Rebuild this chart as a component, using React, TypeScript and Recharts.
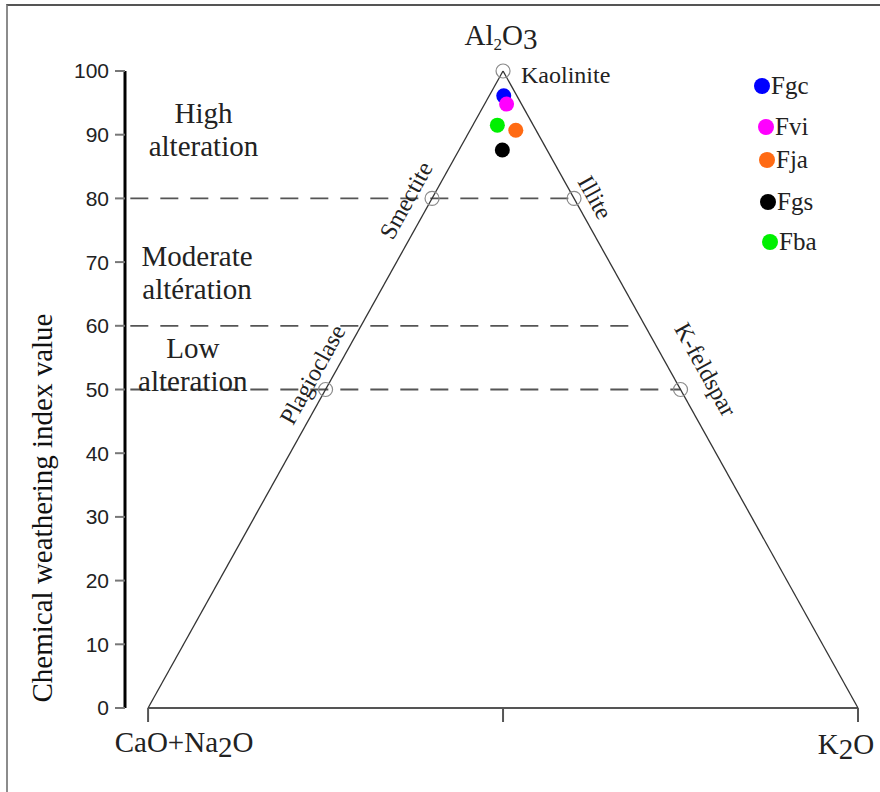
import React from "react";
import { ScatterChart, Scatter, XAxis, YAxis, ReferenceLine, Label } from "recharts";

const SERIF = '"Liberation Serif", "Times New Roman", serif';
const SANS = '"Liberation Sans", Arial, sans-serif';

// ternary base: CaO+Na2O vertex at 0, K2O vertex at 100, Al2O3 apex at 50
const Y_TICKS = [0, 10, 20, 30, 40, 50, 60, 70, 80, 90, 100];
const AXIS_X = -3.25; // where the CIA axis stands, left of the triangle

const ZONE_LIMITS = [80, 60, 50];
const ZONE_LINE_END = [60, 68, 75];
const ZONE_TEXT = [["High", "alteration"], ["Moderate", "altération"], ["Low", "alteration"]];
const ZONE_TEXT_X = [7.8, 6.9, 6.3];
const ZONE_TEXT_Y = [90.8, 68.3, 54];

const VERTEX_NAMES = ["CaO+Na2O", "K2O", "Al2O3"];
const VERTEX_X = [0, 100, 50];
const VERTEX_Y = [0, 0, 100];

const MINERAL_NAMES = ["Kaolinite", "Smectite", "Illite", "Plagioclase", "K-feldspar"];
const MINERAL_X = [50, 40, 60, 25, 75];
const MINERAL_Y = [100, 80, 80, 50, 50];

const SAMPLE_NAMES = ["Fgc", "Fvi", "Fja", "Fgs", "Fba"];
const SAMPLE_X = [50.1, 50.5, 51.8, 49.9, 49.2];
const SAMPLE_CIA = [96.1, 94.8, 90.7, 87.6, 91.5];
const SAMPLE_COLORS = ["#0000ff", "#ff00ff", "#ff6a13", "#000000", "#00f000"];

// legend rows are not evenly spaced in the original
const LEGEND_ROW_TOP = [76, 117, 150, 192, 232];
const LEGEND_ROW_LEFT = [754, 758, 759, 760, 762];

const MINERAL_LABEL: Record<string, { dx: number; dy: number; angle: number; anchor: string }> = {
  Kaolinite: { dx: 18, dy: 4, angle: 0, anchor: "start" },
  Smectite: { dx: -26, dy: 2, angle: -61, anchor: "middle" },
  Illite: { dx: 21, dy: -1, angle: 61, anchor: "middle" },
  Plagioclase: { dx: -13, dy: -15, angle: -61, anchor: "middle" },
  "K-feldspar": { dx: 25, dy: -20, angle: 61, anchor: "middle" },
};

const minerals = MINERAL_NAMES.map((name, i) => ({ name, x: MINERAL_X[i], y: MINERAL_Y[i] }));
const zones = ZONE_TEXT.map((lines, i) => ({ lines, x: ZONE_TEXT_X[i], y: ZONE_TEXT_Y[i] }));
const vertices = VERTEX_NAMES.map((name, i) => ({ name, x: VERTEX_X[i], y: VERTEX_Y[i] }));

const MineralMark = (props: any) => {
  const { cx, cy, payload } = props;
  const s = MINERAL_LABEL[payload.name];
  const tx = cx + s.dx;
  const ty = cy + s.dy;
  return (
    <g>
      <circle cx={cx} cy={cy} r={7} fill="none" stroke="#8a8a8a" strokeWidth={1.2} />
      <text
        x={tx}
        y={ty}
        textAnchor={s.anchor}
        dominantBaseline="central"
        transform={`rotate(${s.angle} ${tx} ${ty})`}
        fontFamily={SERIF}
        fontSize={24}
        fill="#222"
      >
        {payload.name}
      </text>
    </g>
  );
};

const ZoneText = (props: any) => {
  const { cx, cy, payload } = props;
  return (
    <text x={cx} textAnchor="middle" dominantBaseline="central" fontFamily={SERIF} fontSize={29} fill="#222">
      <tspan x={cx} y={cy - 16.5}>{payload.lines[0]}</tspan>
      <tspan x={cx} y={cy + 16.5}>{payload.lines[1]}</tspan>
    </text>
  );
};

const VertexText = (props: any) => {
  const { cx, cy, payload } = props;
  const common = { fontFamily: SERIF, fontSize: 29, fill: "#222", textAnchor: "middle" as const };
  if (payload.name === "Al2O3") {
    return (
      <text x={cx - 2} y={cy - 26} {...common}>
        Al<tspan fontSize={17} dy={5}>2</tspan>
        <tspan dy={-5}>O</tspan>
        <tspan dy={4}>3</tspan>
      </text>
    );
  }
  if (payload.name === "K2O") {
    return (
      <text x={cx - 12} y={cy + 46} {...common}>
        K<tspan dy={5}>2</tspan>
        <tspan dy={-5}>O</tspan>
      </text>
    );
  }
  return (
    <text x={cx + 36} y={cy + 44} {...common}>
      CaO+Na<tspan dy={5}>2</tspan>
      <tspan dy={-5}>O</tspan>
    </text>
  );
};

const renderYLabel = (p: any) => {
  const vb = p.viewBox;
  const x = vb.x + 42;
  const y = vb.y + vb.height - 200;
  return (
    <text
      x={x}
      y={y}
      textAnchor="middle"
      dominantBaseline="central"
      transform={`rotate(-90 ${x} ${y})`}
      fontFamily={SERIF}
      fontSize={29}
      fill="#111"
    >
      Chemical weathering index value
    </text>
  );
};

function SampleLegend() {
  return (
    <>
      {SAMPLE_NAMES.map((name, i) => (
        <div
          key={name}
          style={{
            position: "absolute",
            left: LEGEND_ROW_LEFT[i],
            top: LEGEND_ROW_TOP[i],
            height: 20,
            display: "flex",
            alignItems: "center",
          }}
        >
          <span
            style={{ width: 16, height: 16, borderRadius: 8, background: SAMPLE_COLORS[i], display: "inline-block" }}
          />
          <span style={{ fontFamily: SERIF, fontSize: 25, lineHeight: "20px", color: "#222", marginLeft: 1 }}>
            {name}
          </span>
        </div>
      ))}
    </>
  );
}

export default function App() {
  return (
    <div style={{ position: "absolute", left: 0, top: 0, width: 880, height: 792, background: "#fff" }}>
      <div
        style={{
          position: "absolute",
          left: 6,
          top: 4,
          width: 880,
          height: 800,
          borderLeft: "2px solid #8c8c8c",
          borderTop: "2px solid #555",
        }}
      />
      <div style={{ position: "absolute", left: 0, top: 0 }}>
        <ScatterChart width={880} height={792} margin={{ top: 71, right: 22, bottom: 84, left: 0 }}>
          <XAxis type="number" dataKey="x" domain={[AXIS_X, 100]} hide />
          <YAxis
            type="number"
            dataKey="y"
            domain={[0, 100]}
            ticks={Y_TICKS}
            width={125}
            axisLine={{ stroke: "#000", strokeWidth: 3 }}
            tickLine={{ stroke: "#777", strokeWidth: 2 }}
            tickSize={10}
            tickMargin={6}
            tick={{ fontFamily: SANS, fontSize: 21, fill: "#222" }}
          >
            <Label content={renderYLabel} />
          </YAxis>

          {ZONE_LIMITS.map((v, i) => (
            <ReferenceLine
              key={`zone-${v}`}
              segment={[
                { x: -2.5, y: v },
                { x: ZONE_LINE_END[i], y: v },
              ]}
              stroke="#555"
              strokeWidth={1.8}
              strokeDasharray="18 12"
            />
          ))}

          {/* triangle */}
          <ReferenceLine
            segment={[
              { x: 0, y: 0 },
              { x: 100, y: 0 },
            ]}
            stroke="#555"
            strokeWidth={2}
          />
          <ReferenceLine
            segment={[
              { x: 0, y: 0 },
              { x: 50, y: 100 },
            ]}
            stroke="#333"
            strokeWidth={1.3}
          />
          <ReferenceLine
            segment={[
              { x: 100, y: 0 },
              { x: 50, y: 100 },
            ]}
            stroke="#333"
            strokeWidth={1.3}
          />
          {VERTEX_X.map((vx) => (
            <ReferenceLine
              key={`tick-${vx}`}
              segment={[
                { x: vx, y: 0 },
                { x: vx, y: -2.2 },
              ]}
              stroke="#555"
              strokeWidth={2}
              ifOverflow="visible"
            />
          ))}

          <Scatter data={zones} shape={ZoneText} legendType="none" isAnimationActive={false} />
          <Scatter data={vertices} shape={VertexText} legendType="none" isAnimationActive={false} />
          <Scatter data={minerals} shape={MineralMark} legendType="none" isAnimationActive={false} />

          {SAMPLE_NAMES.map((name, i) => (
            <Scatter
              key={name}
              name={name}
              data={[{ x: SAMPLE_X[i], y: SAMPLE_CIA[i] }]}
              fill={SAMPLE_COLORS[i]}
              shape={(p: any) => <circle cx={p.cx} cy={p.cy} r={7.5} fill={SAMPLE_COLORS[i]} />}
              isAnimationActive={false}
            />
          ))}
        </ScatterChart>
      </div>
      <SampleLegend />
    </div>
  );
}
